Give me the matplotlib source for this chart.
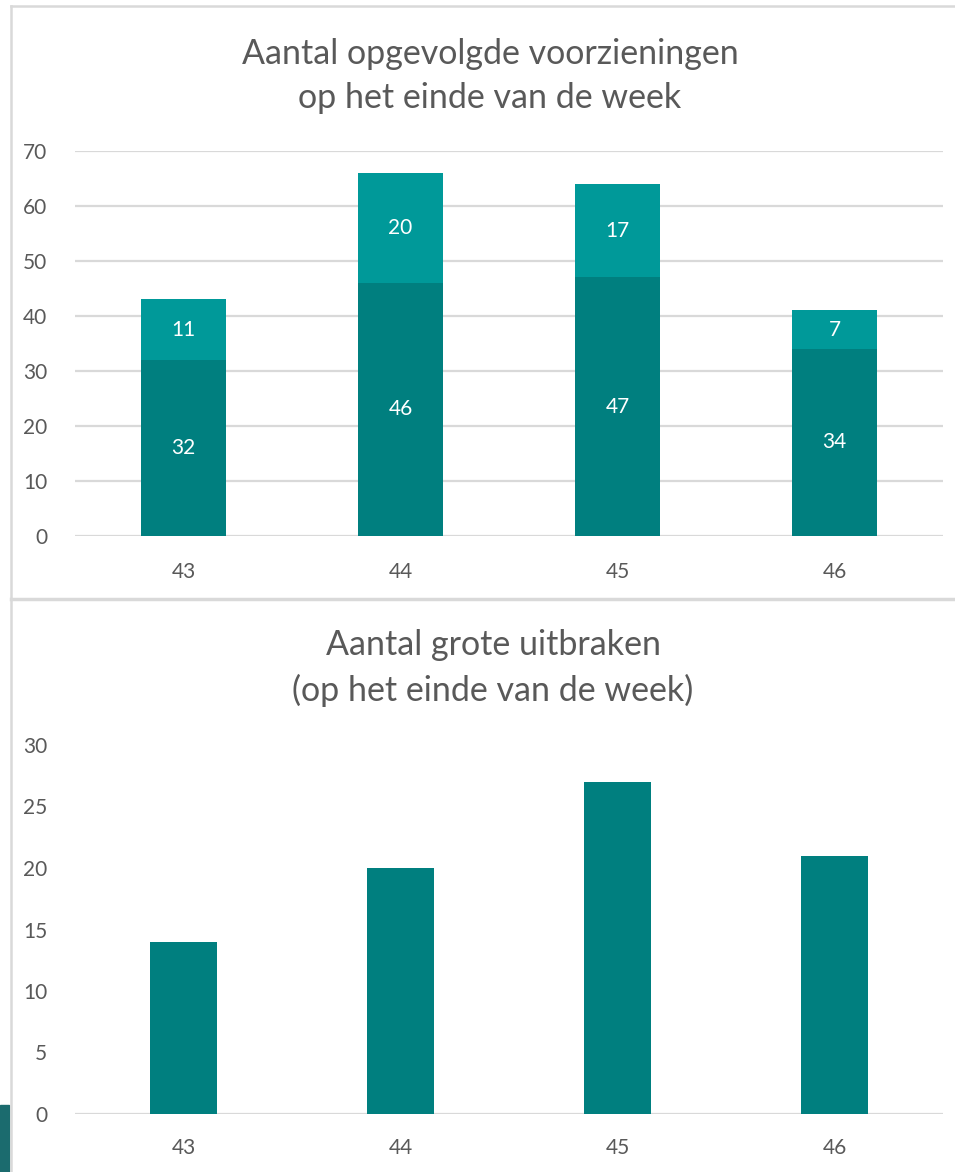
import numpy as np
import matplotlib
matplotlib.use("Agg")
import matplotlib.pyplot as plt
from matplotlib.patches import Rectangle
from matplotlib.lines import Line2D

plt.rcParams['font.family'] = ['Lato', 'DejaVu Sans']

weeks = ['43', '44', '45', '46']
base_vals = [32, 46, 47, 34]
extra_vals = [11, 20, 17, 7]
outbreaks = [14, 20, 27, 21]

dark = '#007F7F'
light = '#009999'
grey_txt = '#595959'
grid_c = '#D9D9D9'

fig = plt.figure(figsize=(9.55, 11.72), dpi=100)

# frame lines like the pasted excel charts
fig.add_artist(Line2D([11/955, 11/955], [0, 1-6/1172], color=grid_c, lw=1.8, transform=fig.transFigure))
fig.add_artist(Line2D([11/955, 1], [1-6/1172, 1-6/1172], color=grid_c, lw=1.8, transform=fig.transFigure))
fig.add_artist(Line2D([11/955, 1], [1-599/1172, 1-599/1172], color=grid_c, lw=2.5, transform=fig.transFigure))
fig.add_artist(Rectangle((0, 0), 9/955, 67/1172, color='#1B6B6E', transform=fig.transFigure))

x = np.arange(len(weeks))

# top chart
ax1 = fig.add_axes([75/955, 1-536/1172, 868/955, 385/1172])
ax1.bar(x, base_vals, width=0.39, color=dark, zorder=3)
ax1.bar(x, extra_vals, width=0.39, bottom=base_vals, color=light, zorder=3)
for i in range(len(weeks)):
    ax1.text(x[i], base_vals[i]/2, str(base_vals[i]), ha='center', va='center',
             color='white', fontsize=15, zorder=4)
    ax1.text(x[i], base_vals[i] + extra_vals[i]/2, str(extra_vals[i]), ha='center',
             va='center', color='white', fontsize=15, zorder=4)
ax1.set_ylim(0, 70)
ax1.set_yticks(range(0, 71, 10))
ax1.set_xlim(-0.5, 3.5)
ax1.set_xticks(x)
ax1.set_xticklabels(weeks)
ax1.yaxis.grid(True, color=grid_c, lw=1.6, zorder=0)
ax1.set_axisbelow(True)
for s in ax1.spines.values():
    s.set_visible(False)
ax1.tick_params(length=0, colors=grey_txt, labelsize=15)
ax1.tick_params(axis='y', pad=20)
ax1.tick_params(axis='x', pad=19)
fig.text(490/955, 1-76/1172, 'Aantal opgevolgde voorzieningen\nop het einde van de week',
         ha='center', va='center', fontsize=24.5, color=grey_txt, linespacing=1.45)

# bottom chart
ax2 = fig.add_axes([75/955, 1-1114/1172, 868/955, 369/1172])
ax2.bar(x, outbreaks, width=0.31, color=dark, zorder=3)
ax2.set_ylim(0, 30)
ax2.set_yticks(range(0, 31, 5))
ax2.set_xlim(-0.5, 3.5)
ax2.set_xticks(x)
ax2.set_xticklabels(weeks)
for s in ax2.spines.values():
    s.set_visible(False)
ax2.axhline(0, color=grid_c, lw=1.6, zorder=0)
ax2.tick_params(length=0, colors=grey_txt, labelsize=15)
ax2.tick_params(axis='y', pad=20)
ax2.tick_params(axis='x', pad=17)
fig.text(493/955, 1-668/1172, 'Aantal grote uitbraken\n(op het einde van de week)',
         ha='center', va='center', fontsize=24.5, color=grey_txt, linespacing=1.45)

fig.savefig('out.png', dpi=100, facecolor='white')
